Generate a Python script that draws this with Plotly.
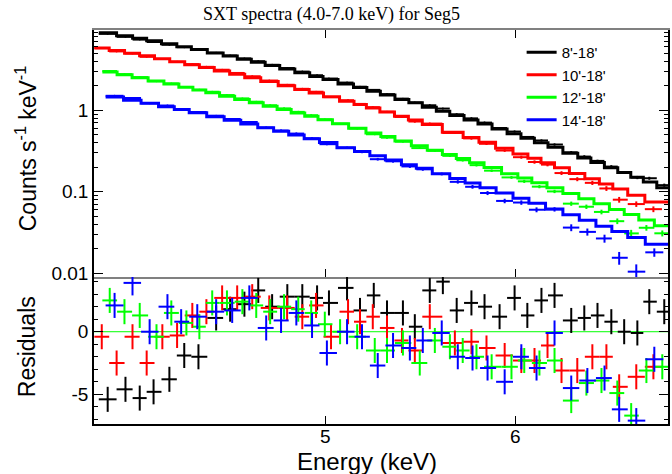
import numpy as np
import plotly.graph_objects as go

# ---------------- data ----------------
labels = ["8'-18'", "10'-18'", "12'-18'", "14'-18'"]
colors = ["#000000", "#ff0000", "#00ff00", "#0000ff"]
x_tick_values = [5, 6]
x_tick_labels = ["5", "6"]

# bin centres (keV)
energy_8 = [4.053, 4.123, 4.180, 4.236, 4.301, 4.363, 4.423, 4.499, 4.560, 4.623,
            4.685, 4.748, 4.818, 4.888, 4.958, 5.015, 5.103, 5.167, 5.236, 5.303,
            5.385, 5.447, 5.526, 5.596, 5.671, 5.752, 5.825, 5.910, 5.996, 6.070,
            6.153, 6.231, 6.332, 6.412, 6.494, 6.581, 6.663, 6.748, 6.826, 6.925]
energy_10 = [4.030, 4.088, 4.151, 4.208, 4.272, 4.333, 4.397, 4.457, 4.525, 4.591,
             4.658, 4.735, 4.817, 4.888, 4.953, 5.025, 5.108, 5.167, 5.231, 5.303,
             5.380, 5.447, 5.526, 5.661, 5.752, 5.836, 5.939, 6.035, 6.112, 6.189,
             6.273, 6.369, 6.462, 6.550, 6.631, 6.741, 6.853]
energy_12 = [4.061, 4.119, 4.180, 4.248, 4.309, 4.372, 4.427, 4.482, 4.546, 4.614,
             4.676, 4.739, 4.803, 4.869, 4.930, 4.995, 5.069, 5.153, 5.241, 5.303,
             5.385, 5.473, 5.553, 5.634, 5.704, 5.780, 5.865, 5.978, 6.052, 6.141,
             6.231, 6.332, 6.425, 6.519, 6.619, 6.708, 6.807, 6.912]
energy_14 = [4.080, 4.151, 4.220, 4.293, 4.350, 4.418, 4.499, 4.569, 4.645, 4.721,
             4.789, 4.860, 4.934, 5.005, 5.103, 5.177, 5.256, 5.334, 5.421, 5.489,
             5.590, 5.677, 5.758, 5.842, 5.939, 6.035, 6.124, 6.231, 6.332, 6.431,
             6.538, 6.631, 6.741, 6.859]

# folded model (counts s^-1 keV^-1) per bin
model_8 = [8.99, 8.24, 7.69, 7.16, 6.57, 6.05, 5.59, 5.04, 4.63, 4.25,
           3.88, 3.55, 3.21, 2.90, 2.61, 2.39, 2.10, 1.905, 1.71, 1.546,
           1.36, 1.236, 1.091, 0.978, 0.867, 0.761, 0.678, 0.592, 0.515, 0.456,
           0.399, 0.352, 0.2975, 0.261, 0.229, 0.198, 0.173, 0.1506, 0.1322, 0.1123]
model_10 = [5.83, 5.43, 5.01, 4.67, 4.29, 3.95, 3.63, 3.35, 3.04, 2.77,
            2.52, 2.26, 2.00, 1.80, 1.63, 1.464, 1.29, 1.178, 1.065, 0.954,
            0.845, 0.759, 0.670, 0.540, 0.464, 0.405, 0.343, 0.292, 0.258, 0.227,
            0.198, 0.1684, 0.1443, 0.1248, 0.1087, 0.0906, 0.0752]
model_12 = [2.96, 2.73, 2.52, 2.29, 2.10, 1.92, 1.776, 1.639, 1.492, 1.355,
            1.236, 1.125, 1.023, 0.928, 0.847, 0.765, 0.685, 0.603, 0.526, 0.479,
            0.422, 0.367, 0.325, 0.2865, 0.2564, 0.2272, 0.1992, 0.1666, 0.148, 0.1289,
            0.112, 0.0953, 0.0824, 0.0712, 0.0607, 0.0527, 0.0452, 0.0383]
model_14 = [1.462, 1.334, 1.220, 1.106, 1.023, 0.933, 0.834, 0.756, 0.680, 0.610,
            0.553, 0.4995, 0.4473, 0.4025, 0.3484, 0.3119, 0.2764, 0.2462, 0.2156, 0.1942,
            0.1664, 0.1455, 0.1281, 0.1125, 0.0969, 0.0832, 0.0725, 0.0614, 0.0523, 0.0448,
            0.0379, 0.0327, 0.0275, 0.0228]

# residuals (data - model) / error
resid_8 = [-5.4, -4.6, -5.3, -4.8, -3.8, -1.9, -2.0, 1.1, 1.8, 2.2,
           3.3, 2.0, 2.8, 2.8, 2.7, 2.3, 3.5, 1.7, 2.9, 1.5,
           1.5, 0.4, 3.3, 4.0, 1.7, 2.3, 2.0, 1.2, 2.7, 1.3,
           2.5, 2.9, 0.9, 1.1, 1.3, 0.8, 0.0, -0.1, 2.4, 1.6]
resid_10 = [-0.4, -2.5, -0.4, -2.5, -0.4, -0.3, 1.3, 1.6, 2.7, 2.7,
            2.8, 1.9, 1.9, 1.2, 2.1, -0.4, 1.6, 0.8, 1.2, 0.3,
            -0.7, -1.5, 1.2, -0.9, -0.8, -1.3, -1.9, -2.3, -2.3, -1.1,
            -3.1, -3.1, -2.0, -2.0, -4.4, -3.6, -2.8]
resid_12 = [2.5, 1.6, 1.3, -0.4, 1.5, 0.7, 0.4, 2.3, 2.3, 2.4,
            2.1, 1.6, 2.0, 1.8, 1.5, 0.6, 0.0, -0.4, -1.5, -1.5,
            -0.9, -2.5, -0.7, -1.2, -1.5, -2.0, -2.8, -2.8, -2.3, -2.5,
            -2.3, -5.5, -4.1, -3.9, -4.9, -6.7, -3.1, -2.8]
resid_14 = [2.1, 3.9, 0.0, 2.0, 0.8, 1.2, 1.6, 1.7, 2.7, 0.3,
            0.9, 1.5, 0.5, -1.7, 0.0, -0.4, -2.7, -1.1, -1.3, -0.7,
            -0.1, -2.0, -2.1, -2.9, -4.0, -2.0, -2.9, -0.1, -4.5, -3.9,
            -3.7, -6.2, -7.1, -2.2]

# effective exposure (s) of each spectrum, sets the Poisson error size
exposure = [40000, 27000, 53000, 42000]
SPEC_HI = 7.0  # upper end of the fitted band (keV)

energies = [energy_8, energy_10, energy_12, energy_14]
models = [model_8, model_10, model_12, model_14]
resids = [resid_8, resid_10, resid_12, resid_14]


def edges_from_centres(c):
    lc = np.log10(np.asarray(c, dtype=float))
    mid = (lc[1:] + lc[:-1]) / 2.0
    first = lc[0] - (lc[1] - lc[0]) / 2.0
    last = lc[-1] + (lc[-1] - lc[-2]) / 2.0
    return 10 ** np.concatenate([[first], mid, [last]])


fig = go.Figure()

for lab, col, e, m, r, t in zip(labels, colors, energies, models, resids, exposure):
    e = np.asarray(e, float)
    m = np.asarray(m, float)
    r = np.asarray(r, float)
    ed = edges_from_centres(e)
    de = ed[1:] - ed[:-1]
    sig = np.sqrt(m / (t * de))
    data = m + r * sig
    xm = e - ed[:-1]
    xp = ed[1:] - e

    # data points (top panel)
    fig.add_trace(go.Scatter(
        x=e, y=data, mode="markers", marker=dict(size=2, color=col),
        error_x=dict(type="data", symmetric=False, array=xp, arrayminus=xm,
                     thickness=2, width=0, color=col),
        error_y=dict(type="data", array=sig, thickness=2, width=0, color=col),
        showlegend=False, xaxis="x", yaxis="y", hoverinfo="skip"))
    # model histogram (top panel)
    mx = list(ed[:-1]) + [SPEC_HI]
    my = list(m) + [m[-1]]
    fig.add_trace(go.Scatter(
        x=mx, y=my, mode="lines", line=dict(shape="hv", width=3, color=col),
        name=lab, showlegend=True, xaxis="x", yaxis="y"))

for lab, col, e, r in zip(labels, colors, energies, resids):
    e = np.asarray(e, float)
    ed = edges_from_centres(e)
    fig.add_trace(go.Scatter(
        x=e, y=r, mode="markers", marker=dict(size=2, color=col),
        error_x=dict(type="data", symmetric=False, array=ed[1:] - e,
                     arrayminus=e - ed[:-1], thickness=2, width=0, color=col),
        error_y=dict(type="data", array=[1.0] * len(r), thickness=2, width=0, color=col),
        showlegend=False, xaxis="x2", yaxis="y2", hoverinfo="skip"))

# ---------------- layout ----------------
W, H = 672, 474
ml, mr, mt, mb = 94, 2, 30, 50
ph = H - mt - mb
split = (424 - 277) / ph

FONT = "Liberation Sans, Arial, sans-serif"
tickfont = dict(family=FONT, size=19, color="black")
xr = [np.log10(4.0), np.log10(6.95)]

minor_log = [k * d for d in (0.01, 0.1, 1.0) for k in range(2, 10)]

fig.update_layout(
    width=W, height=H,
    margin=dict(l=ml, r=mr, t=mt, b=mb),
    paper_bgcolor="white", plot_bgcolor="white",
    showlegend=True,
    legend=dict(x=0.745, y=0.985, xanchor="left", yanchor="top",
                bgcolor="rgba(0,0,0,0)", font=dict(family=FONT, size=15, color="black"),
                tracegroupgap=0),
    xaxis=dict(domain=[0, 1], anchor="y", type="log", range=xr,
               tickvals=x_tick_values, showticklabels=False,
               ticks="inside", ticklen=8, tickcolor="black",
               showline=True, linecolor="#808080", linewidth=1.5, mirror="ticks",
               showgrid=False, zeroline=False),
    yaxis=dict(domain=[split, 1], anchor="x", type="log", range=[-2.045, 0.986],
               tickvals=[0.01, 0.1, 1], ticktext=["0.01", "0.1", "1"],
               ticks="inside", ticklen=9, tickcolor="black", tickfont=tickfont,
               minor=dict(tickvals=minor_log, ticks="inside", ticklen=4, tickcolor="black"),
               showline=True, linecolor="black", linewidth=1.5, mirror="ticks",
               showgrid=False, zeroline=False),
    xaxis2=dict(domain=[0, 1], anchor="y2", type="log", range=xr, matches="x",
                tickvals=x_tick_values, showticklabels=False,
                ticks="inside", ticklen=8, tickcolor="black",
                showline=True, linecolor="black", linewidth=1.5, mirror=False,
                showgrid=False, zeroline=False),
    yaxis2=dict(domain=[0, split], anchor="x2", range=[-7.37, 4.37],
                tickvals=[-5, 0], ticktext=["-5", "0"],
                ticks="inside", ticklen=9, tickcolor="black", tickfont=tickfont,
                minor=dict(dtick=1, tick0=0, ticks="inside", ticklen=4, tickcolor="black"),
                showline=True, linecolor="black", linewidth=1.5, mirror="ticks",
                showgrid=False, zeroline=False),
    shapes=[dict(type="line", xref="x2 domain", yref="y2", x0=0, x1=1, y0=0, y1=0,
                 line=dict(color="#00ff00", width=1), layer="below")],
)


def px_x(x):
    return (x - ml) / (W - ml - mr)


def px_y(y):
    return (H - mb - y) / ph


# x tick labels of the residual panel, placed on the energy axis
for v, t in zip(x_tick_values, x_tick_labels):
    fig.add_annotation(text=t, xref="x2", yref="paper", x=np.log10(v), y=px_y(436),
                       xanchor="center", yanchor="middle", showarrow=False,
                       font=tickfont)

fig.add_annotation(text="SXT spectra (4.0-7.0 keV) for Seg5", xref="paper", yref="paper",
                   x=px_x(332), y=px_y(15), xanchor="center", yanchor="middle",
                   showarrow=False,
                   font=dict(family="Liberation Serif, Times New Roman, serif", size=18, color="black"))
fig.add_annotation(text="Counts s<sup>-1</sup> keV<sup>-1</sup>", xref="paper", yref="paper",
                   x=px_x(26), y=px_y(149), xanchor="center", yanchor="middle",
                   textangle=-90, showarrow=False,
                   font=dict(family=FONT, size=23, color="black"))
fig.add_annotation(text="Residuals", xref="paper", yref="paper",
                   x=px_x(27), y=px_y(347), xanchor="center", yanchor="middle",
                   textangle=-90, showarrow=False,
                   font=dict(family=FONT, size=23, color="black"))
fig.add_annotation(text="Energy (keV)", xref="paper", yref="paper",
                   x=px_x(368), y=px_y(461), xanchor="center", yanchor="middle",
                   showarrow=False,
                   font=dict(family=FONT, size=24, color="black"))

fig.write_html("out.html")
